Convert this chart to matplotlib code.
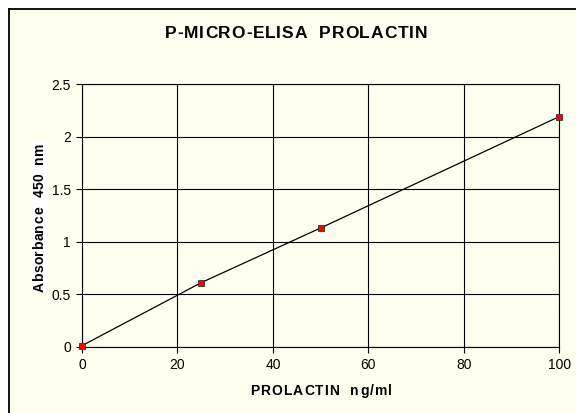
import matplotlib
matplotlib.use('Agg')
import matplotlib.pyplot as plt
from matplotlib.patches import Rectangle
from matplotlib.lines import Line2D

# standard curve readings
conc = [0, 25, 50, 100]
absorb = [0.01, 0.61, 1.13, 2.19]

xticks = [0, 20, 40, 60, 80, 100]
yticks = [0, 0.5, 1, 1.5, 2, 2.5]
yticklabels = ['0', '0.5', '1', '1.5', '2', '2.5']

title = 'P-MICRO-ELISA  PROLACTIN'
xlabel = 'PROLACTIN  ng/ml'
ylabel = 'Absorbance  450  nm'

cream = '#FFFFF0'
plt.rcParams['font.family'] = ['Liberation Sans', 'DejaVu Sans']

W, H = 576.0, 413.0
fig = plt.figure(figsize=(W / 100, H / 100), dpi=100)
fig.patch.set_facecolor('white')
renderer = fig.canvas.get_renderer()


def spaced_text(s, cx, cy, total, size, vertical=False):
    # draw s char by char so it spans `total` px, centred on (cx, cy) px from top-left
    probe = [fig.text(0, 0, c, fontsize=size, fontweight='bold') for c in s]
    widths = []
    for t in probe:
        w = t.get_window_extent(renderer).width
        widths.append(w)
        t.remove()
    gap = (total - sum(widths)) / (len(s) - 1)
    pos = -total / 2.0
    for c, w in zip(s, widths):
        mid = pos + w / 2.0
        if vertical:
            fig.text(cx / W, 1 - (cy - mid) / H, c, fontsize=size, fontweight='bold',
                     rotation=90, ha='center', va='center', zorder=5)
        else:
            fig.text((cx + mid) / W, 1 - cy / H, c, fontsize=size, fontweight='bold',
                     ha='center', va='center', zorder=5)
        pos += w + gap


# chart area with left / top border (right and bottom cut off)
x0, y0 = 9.0 / W, 1 - 9.0 / H
fig.patches.append(Rectangle((x0, 0), 1 - x0, y0, transform=fig.transFigure,
                             facecolor=cream, edgecolor='none', zorder=-5))
fig.lines.append(Line2D([x0, x0], [0, y0], transform=fig.transFigure, color='black', lw=1.3, zorder=-4))
fig.lines.append(Line2D([x0, 1], [y0, y0], transform=fig.transFigure, color='black', lw=1.3, zorder=-4))

ax = fig.add_axes([82 / W, 1 - 346.7 / H, (559.3 - 82) / W, (346.7 - 84) / H])
ax.set_facecolor(cream)

ax.plot(conc, absorb, color='black', lw=0.9, marker='s', markersize=4.2,
        markerfacecolor='#FF0000', markeredgecolor='#333333', markeredgewidth=0.6,
        clip_on=False, zorder=3)

ax.set_xlim(0, 100)
ax.set_ylim(0, 2.5)
ax.set_xticks(xticks)
ax.set_yticks(yticks)
ax.set_yticklabels(yticklabels)
ax.grid(True, color='black', lw=0.8)
for s in ax.spines.values():
    s.set_color('black')
    s.set_linewidth(0.8)
ax.tick_params(direction='out', length=4.5, width=0.8, labelsize=10, pad=3.5, colors='black')

spaced_text(title, 296, 33, 262, 12.5)
spaced_text(xlabel, 321, 391, 142, 10)

# white box behind the y label
fig.patches.append(Rectangle((32 / W, 1 - 292 / H), 15 / W, 150 / H, transform=fig.transFigure,
                             facecolor='white', edgecolor='none', zorder=1))
spaced_text(ylabel, 39.5, 217, 149, 10, vertical=True)

fig.savefig('out.png', dpi=100)
